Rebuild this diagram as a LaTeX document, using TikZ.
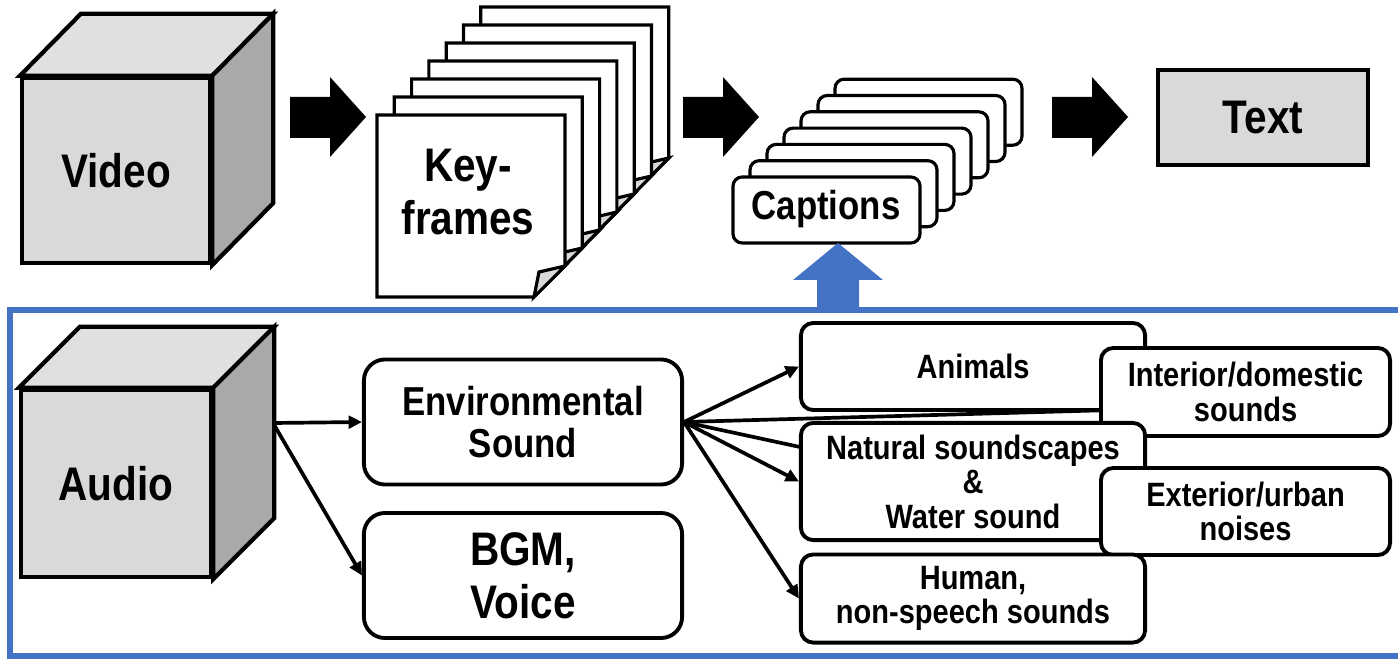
\documentclass[tikz,border=0pt]{standalone}
\usepackage{fontspec}
\setmainfont{Liberation Sans}[FakeStretch=0.86]
\usetikzlibrary{calc,arrows.meta,backgrounds}
\definecolor{facefront}{HTML}{D9D9D9}
\definecolor{facetop}{HTML}{E0E0E0}
\definecolor{faceside}{HTML}{A9A9A9}
\definecolor{frameblue}{HTML}{4472C4}
\tikzset{
  cubeface/.style={draw, line width=1.2pt},
  bigtxt/.style={font=\bfseries\fontsize{13.4}{15}\selectfont, align=center},
  midtxt/.style={font=\bfseries\fontsize{11.5}{11.8}\selectfont, align=center},
  smalltxt/.style={font=\bfseries\fontsize{9.6}{9.8}\selectfont, align=center},
  sheet/.style={draw, fill=white, line width=0.9pt},
  capbox/.style={draw, fill=white, line width=0.9pt, rounded corners=2.6pt},
  soundbox/.style={draw, fill=white, line width=1.1pt, rounded corners=6pt, minimum width=3.18cm, minimum height=1.25cm},
  smallbox/.style={draw, fill=white, line width=1.1pt, rounded corners=3.5pt, smalltxt},
  conn/.style={line width=1.05pt, -{Triangle[length=3.8pt,width=3.6pt]}},
  plainconn/.style={line width=1.05pt}
}
\begin{document}
\begin{tikzpicture}[x=0.01cm,y=-0.01cm]
\useasboundingbox (0,0) rectangle (1398,658);

\foreach \ax in {290,683,1052}
  \fill (\ax,97) -- (\ax+40,97) -- (\ax+40,77) -- (\ax+76,117) -- (\ax+40,157) -- (\ax+40,138) -- (\ax,138) -- cycle;

\node[cubeface, fill=facefront, minimum width=1.88cm, minimum height=1.85cm, bigtxt] (video) at (116,170.5) {Video};
\draw[cubeface, fill=facetop] (video.north west) -- ++(61,-62) -- ($(video.north east)+(61,-62)$) -- (video.north east) -- cycle;
\draw[cubeface, fill=faceside] (video.north east) -- ++(61,-62) -- ($(video.south east)+(61,-62)$) -- (video.south east) -- cycle;

\foreach \i in {6,...,0} {
  \draw[sheet] ({377+17.3*\i},{115-18*\i}) -- ++(188,0) -- ++(0,151) -- ++(-31,31) -- ++(-157,0) -- cycle;
  \draw[sheet, fill=facefront] ({565+17.3*\i},{266-18*\i}) -- ++(-31,31) -- ++(5,-25) -- cycle;
}
\node[bigtxt] (keyframes) at (468,192) {Key-\\frames};

\foreach \i in {6,...,0}
  \draw[capbox] ({733+17*\i},{177-16.3*\i}) rectangle ++(187,66);
\node[midtxt] (captions) at (826,209) {Captions};

\node[draw, line width=1.1pt, fill=facefront, minimum width=2.1cm, minimum height=0.95cm, bigtxt] (text) at (1263,117.5) {Text};

\fill[frameblue] (838,243) -- (883,280) -- (859,280) -- (859,312) -- (817,312) -- (817,280) -- (793,280) -- cycle;
\draw[frameblue, line width=1.8pt] (1398,310) -- (10,310) -- (10,656) -- (1398,656);

\node[cubeface, fill=facefront, minimum width=1.9cm, minimum height=1.87cm, bigtxt] (audio) at (116,483.5) {Audio};
\draw[cubeface, fill=facetop] (audio.north west) -- ++(61,-61) -- ($(audio.north east)+(61,-61)$) -- (audio.north east) -- cycle;
\draw[cubeface, fill=faceside] (audio.north east) -- ++(61,-61) -- ($(audio.south east)+(61,-61)$) -- (audio.south east) -- cycle;
\coordinate (audioout) at (273,423);

\node[soundbox, midtxt] (env) at (523,422) {Environmental\\Sound};
\node[soundbox, bigtxt] (bgm) at (523,575.5) {BGM,\\Voice};

\node[smallbox, minimum width=3.44cm, minimum height=0.87cm] (animals) at (973,366.5) {Animals};
\node[smallbox, minimum width=2.89cm, minimum height=0.88cm] (interior) at (1245.5,392) {Interior/domestic\\sounds};
\node[smallbox, minimum width=3.44cm, minimum height=1.15cm] (natural) at (973,481.5) {Natural soundscapes\\\&\\Water sound};
\node[smallbox, minimum width=2.89cm, minimum height=0.87cm] (exterior) at (1245.5,511.5) {Exterior/urban\\noises};
\node[smallbox, minimum width=3.44cm, minimum height=0.87cm] (human) at (973,598.5) {Human,\\non-speech sounds};

\begin{scope}[on background layer]
\draw[conn] (audioout) -- (env.west);
\draw[conn] (audioout) -- (bgm.west);
\draw[conn] (env.east) -- (animals.west);
\draw[plainconn] (env.east) -- ($(interior.south west)!0.3!(interior.north west)$);
\draw[plainconn] (env.east) -- (exterior.west);
\draw[conn] (env.east) -- (natural.west);
\draw[conn] (env.east) -- (human.west);
\end{scope}
\end{tikzpicture}
\end{document}
